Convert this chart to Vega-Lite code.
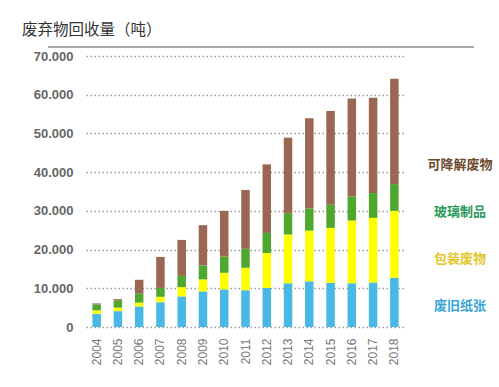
{
  "$schema": "https://vega.github.io/schema/vega-lite/v6.json",
  "width": 319,
  "height": 271,
  "autosize": "none",
  "padding": {"left": 86, "top": 56, "right": 94, "bottom": 60},
  "background": "white",
  "config": {"view": {"stroke": null}},
  "title": {
    "text": "废弃物回收量（吨）",
    "anchor": "start",
    "frame": "group",
    "dx": -64,
    "offset": 8,
    "font": "Noto Sans CJK SC",
    "fontSize": 15.5,
    "fontWeight": "normal",
    "color": "#333333"
  },
  "data": {
    "values": [
      {"year": "2004", "type": "废旧纸张", "value": 3400}, {"year": "2004", "type": "包装废物", "value": 900}, {"year": "2004", "type": "玻璃制品", "value": 1500}, {"year": "2004", "type": "可降解废物", "value": 300},
      {"year": "2005", "type": "废旧纸张", "value": 4100}, {"year": "2005", "type": "包装废物", "value": 900}, {"year": "2005", "type": "玻璃制品", "value": 1900}, {"year": "2005", "type": "可降解废物", "value": 300},
      {"year": "2006", "type": "废旧纸张", "value": 5300}, {"year": "2006", "type": "包装废物", "value": 1000}, {"year": "2006", "type": "玻璃制品", "value": 2300}, {"year": "2006", "type": "可降解废物", "value": 3600},
      {"year": "2007", "type": "废旧纸张", "value": 6400}, {"year": "2007", "type": "包装废物", "value": 1400}, {"year": "2007", "type": "玻璃制品", "value": 2300}, {"year": "2007", "type": "可降解废物", "value": 8000},
      {"year": "2008", "type": "废旧纸张", "value": 7900}, {"year": "2008", "type": "包装废物", "value": 2400}, {"year": "2008", "type": "玻璃制品", "value": 2900}, {"year": "2008", "type": "可降解废物", "value": 9300},
      {"year": "2009", "type": "废旧纸张", "value": 9200}, {"year": "2009", "type": "包装废物", "value": 3100}, {"year": "2009", "type": "玻璃制品", "value": 3600}, {"year": "2009", "type": "可降解废物", "value": 10400},
      {"year": "2010", "type": "废旧纸张", "value": 9700}, {"year": "2010", "type": "包装废物", "value": 4300}, {"year": "2010", "type": "玻璃制品", "value": 4200}, {"year": "2010", "type": "可降解废物", "value": 11800},
      {"year": "2011", "type": "废旧纸张", "value": 9500}, {"year": "2011", "type": "包装废物", "value": 5800}, {"year": "2011", "type": "玻璃制品", "value": 4900}, {"year": "2011", "type": "可降解废物", "value": 15200},
      {"year": "2012", "type": "废旧纸张", "value": 10100}, {"year": "2012", "type": "包装废物", "value": 9000}, {"year": "2012", "type": "玻璃制品", "value": 5200}, {"year": "2012", "type": "可降解废物", "value": 17700},
      {"year": "2013", "type": "废旧纸张", "value": 11300}, {"year": "2013", "type": "包装废物", "value": 12600}, {"year": "2013", "type": "玻璃制品", "value": 5500}, {"year": "2013", "type": "可降解废物", "value": 19500},
      {"year": "2014", "type": "废旧纸张", "value": 11800}, {"year": "2014", "type": "包装废物", "value": 13100}, {"year": "2014", "type": "玻璃制品", "value": 5700}, {"year": "2014", "type": "可降解废物", "value": 23300},
      {"year": "2015", "type": "废旧纸张", "value": 11400}, {"year": "2015", "type": "包装废物", "value": 14200}, {"year": "2015", "type": "玻璃制品", "value": 6000}, {"year": "2015", "type": "可降解废物", "value": 24200},
      {"year": "2016", "type": "废旧纸张", "value": 11300}, {"year": "2016", "type": "包装废物", "value": 16200}, {"year": "2016", "type": "玻璃制品", "value": 6200}, {"year": "2016", "type": "可降解废物", "value": 25300},
      {"year": "2017", "type": "废旧纸张", "value": 11500}, {"year": "2017", "type": "包装废物", "value": 16700}, {"year": "2017", "type": "玻璃制品", "value": 6400}, {"year": "2017", "type": "可降解废物", "value": 24600},
      {"year": "2018", "type": "废旧纸张", "value": 12700}, {"year": "2018", "type": "包装废物", "value": 17300}, {"year": "2018", "type": "玻璃制品", "value": 6900}, {"year": "2018", "type": "可降解废物", "value": 27200}
    ]
  },
  "resolve": {"axis": {"y": "independent", "x": "independent"}},
  "layer": [
    {
      "transform": [
        {"calculate": "indexof(['废旧纸张', '包装废物', '玻璃制品', '可降解废物'], datum.type)", "as": "stackOrder"}
      ],
      "mark": {"type": "bar"},
      "encoding": {
        "x": {
          "field": "year",
          "type": "ordinal",
          "title": null,
          "scale": {"paddingInner": 0.6, "paddingOuter": 0.3},
          "axis": {
            "labelAngle": -90,
            "labelFont": "Liberation Sans",
            "labelFontSize": 12,
            "labelColor": "#777777",
            "labelPadding": 11,
            "ticks": false,
            "domain": false
          }
        },
        "y": {
          "field": "value",
          "type": "quantitative",
          "stack": "zero",
          "title": null,
          "scale": {"domain": [0, 70000], "nice": false},
          "axis": {
            "values": [0, 10000, 20000, 30000, 40000, 50000, 60000, 70000],
            "labelExpr": "replace(format(datum.value, ','), ',', '.')",
            "labelFont": "Liberation Sans",
            "labelFontSize": 13,
            "labelFontWeight": "bold",
            "labelColor": "#666666",
            "labelPadding": 13,
            "labelOverlap": false,
            "labelFlush": false,
            "ticks": false,
            "domain": false,
            "grid": true,
            "gridColor": "#999999",
            "gridDash": [1.5, 2.5],
            "gridWidth": 1.5
          }
        },
        "order": {"field": "stackOrder", "type": "quantitative", "sort": "ascending"},
        "color": {
          "field": "type",
          "type": "nominal",
          "scale": {
            "domain": ["废旧纸张", "包装废物", "玻璃制品", "可降解废物"],
            "range": ["#4ab8e5", "#ffff00", "#4ea72e", "#9a6752"]
          },
          "legend": {
            "title": null,
            "orient": "none",
            "legendX": 361,
            "legendY": 102,
            "values": ["可降解废物", "玻璃制品", "包装废物", "废旧纸张"],
            "symbolSize": 0,
            "symbolStrokeWidth": 0,
            "symbolOpacity": 0,
            "labelOffset": 0,
            "labelAlign": "center",
            "labelFont": "Noto Sans CJK SC",
            "labelFontSize": 13,
            "labelFontWeight": "bold",
            "rowPadding": 33,
            "labelColor": {"expr": "datum.value == '可降解废物' ? '#6e4a2e' : datum.value == '玻璃制品' ? '#2a9a5a' : datum.value == '包装废物' ? '#e3c62a' : '#3aa6d8'"}
          }
        }
      }
    },
    {
      "mark": {"type": "rule", "color": "#aaaaaa", "strokeWidth": 1.5, "xOffset": -44, "x2Offset": 75, "clip": false},
      "encoding": {
        "x": {"datum": "2004", "type": "ordinal", "bandPosition": 0, "axis": null},
        "x2": {"datum": "2018", "bandPosition": 1},
        "y": {"datum": 72300, "type": "quantitative", "axis": null}
      }
    }
  ]
}
